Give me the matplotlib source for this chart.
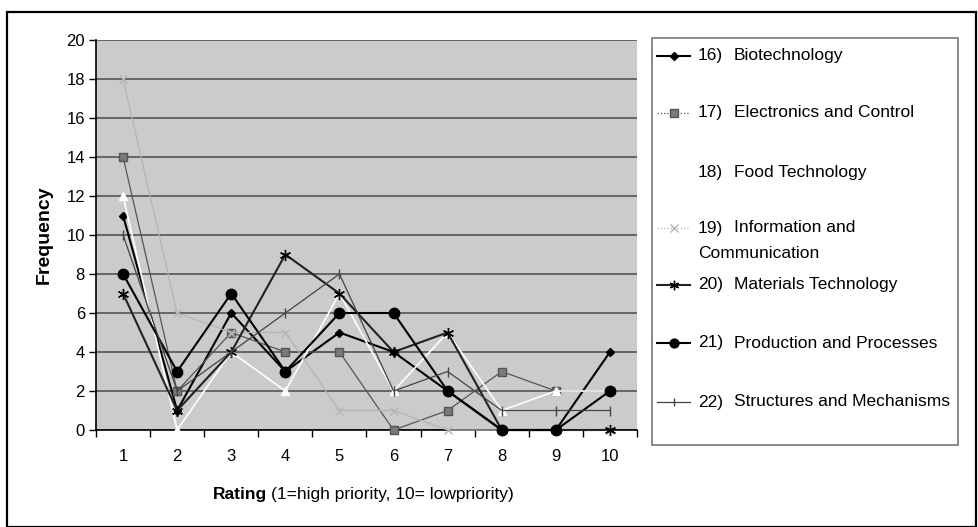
import matplotlib.pyplot as plt
from matplotlib.lines import Line2D
from matplotlib.patches import Rectangle

plt.rcParams["font.family"] = ["Liberation Sans", "DejaVu Sans"]

ratings = [1, 2, 3, 4, 5, 6, 7, 8, 9, 10]

biotechnology = [11, 1, 6, 3, 5, 4, 2, 0, 0, 4]
electronics = [14, 2, 5, 4, 4, 0, 1, 3, 2, 2]
food_technology = [12, 0, 4, 2, 7, 2, 5, 1, 2, 2]
information = [18, 6, 5, 5, 1, 1, 0, 0, 0, 0]
materials = [7, 1, 4, 9, 7, 4, 5, 0, 0, 0]
production = [8, 3, 7, 3, 6, 6, 2, 0, 0, 2]
structures = [10, 2, 4, 6, 8, 2, 3, 1, 1, 1]

numbers = ["16)", "17)", "18)", "19)", "20)", "21)", "22)"]
names = [
    "Biotechnology",
    "Electronics and Control",
    "Food Technology",
    "Information and",
    "Materials Technology",
    "Production and Processes",
    "Structures and Mechanisms",
]

W, H = 979, 527
fig = plt.figure(figsize=(W / 100, H / 100), dpi=100)

# black frame around the whole chart
fig.patches.append(
    Rectangle((7 / W, 0), 969 / W, 1 - 12 / H, transform=fig.transFigure,
              fill=False, edgecolor="black", linewidth=1.6)
)

ax = fig.add_axes([96 / W, 97 / H, 541 / W, 390 / H])
ax.set_facecolor("#cbcbcb")

# (values, line colour, linewidth, marker, marker size, marker face, marker edge, legend linestyle)
series = [
    (biotechnology, "black", 1.5, "D", 4.5, "black", "black", "-"),
    (electronics, "#555555", 0.9, "s", 6, "#7a7a7a", "#555555", ":"),
    (food_technology, "white", 1.2, "^", 6, "white", "white", "-"),
    (information, "#b5b5b5", 0.9, "x", 6, "none", "#b5b5b5", ":"),
    (materials, "#222222", 1.5, (6, 2, 0), 8, "black", "black", "-"),
    (production, "black", 1.5, "o", 7.5, "black", "black", "-"),
    (structures, "#444444", 0.9, "|", 7, "#444444", "#444444", "-"),
]

for values, color, lw, marker, ms, mfc, mec, _ in series:
    ax.plot(ratings, values, color=color, linewidth=lw, marker=marker,
            markersize=ms, markerfacecolor=mfc, markeredgecolor=mec,
            markeredgewidth=1.0, zorder=3, clip_on=False)

ax.set_xlim(0.5, 10.5)
ax.set_ylim(0, 20)
ax.set_yticks(range(0, 21, 2))
ax.set_xticks(ratings)
ax.set_xticks([r + 0.5 for r in range(0, 11)], minor=True)
ax.tick_params(axis="x", which="major", length=0, pad=14, labelsize=12)
ax.tick_params(axis="x", which="minor", length=5, width=1, direction="out")
ax.tick_params(axis="y", length=5, width=1, direction="out", labelsize=12, pad=3)

ax.grid(axis="y", color="#4a4a4a", linewidth=1.1)
ax.set_axisbelow(True)
for side in ("top", "right"):
    ax.spines[side].set_visible(False)
ax.spines["left"].set_linewidth(1.2)
ax.spines["bottom"].set_linewidth(1.2)

ax.set_ylabel("Frequency", fontsize=14, fontweight="bold", labelpad=10)

# x axis title: bold word followed by a plain explanation
renderer = fig.canvas.get_renderer()
bold_part = fig.text(213 / W, 1 - 494 / H, "Rating", fontsize=12.5,
                     fontweight="bold", ha="left", va="center")
bold_width = bold_part.get_window_extent(renderer).width
fig.text((213 + bold_width + 4) / W, 1 - 494 / H, "(1=high priority, 10= lowpriority)",
         fontsize=12.5, ha="left", va="center")

# legend box drawn by hand so the two-line entry keeps its marker on the first line
fig.patches.append(
    Rectangle((652 / W, 1 - 445 / H), 306 / W, 407 / H, transform=fig.transFigure,
              facecolor="white", edgecolor="#777777", linewidth=1.2)
)
entry_y = [56, 113, 172, 228, 285, 343, 402]
for (values, color, lw, marker, ms, mfc, mec, ls), num, name, y in zip(
        series, numbers, names, entry_y):
    yf = 1 - y / H
    fig.add_artist(Line2D([657 / W, 690 / W], [yf, yf], transform=fig.transFigure,
                          color=color, linewidth=lw, linestyle=ls))
    fig.add_artist(Line2D([673.5 / W], [yf], transform=fig.transFigure,
                          marker=marker, markersize=ms * 0.85, markerfacecolor=mfc,
                          markeredgecolor=mec, linestyle="none"))
    fig.text(698 / W, yf, num, fontsize=12.5, ha="left", va="center")
    fig.text(734 / W, yf, name, fontsize=12.5, ha="left", va="center")
fig.text(698 / W, 1 - 253 / H, "Communication", fontsize=12.5, ha="left", va="center")

fig.savefig("out.png", dpi=100)
